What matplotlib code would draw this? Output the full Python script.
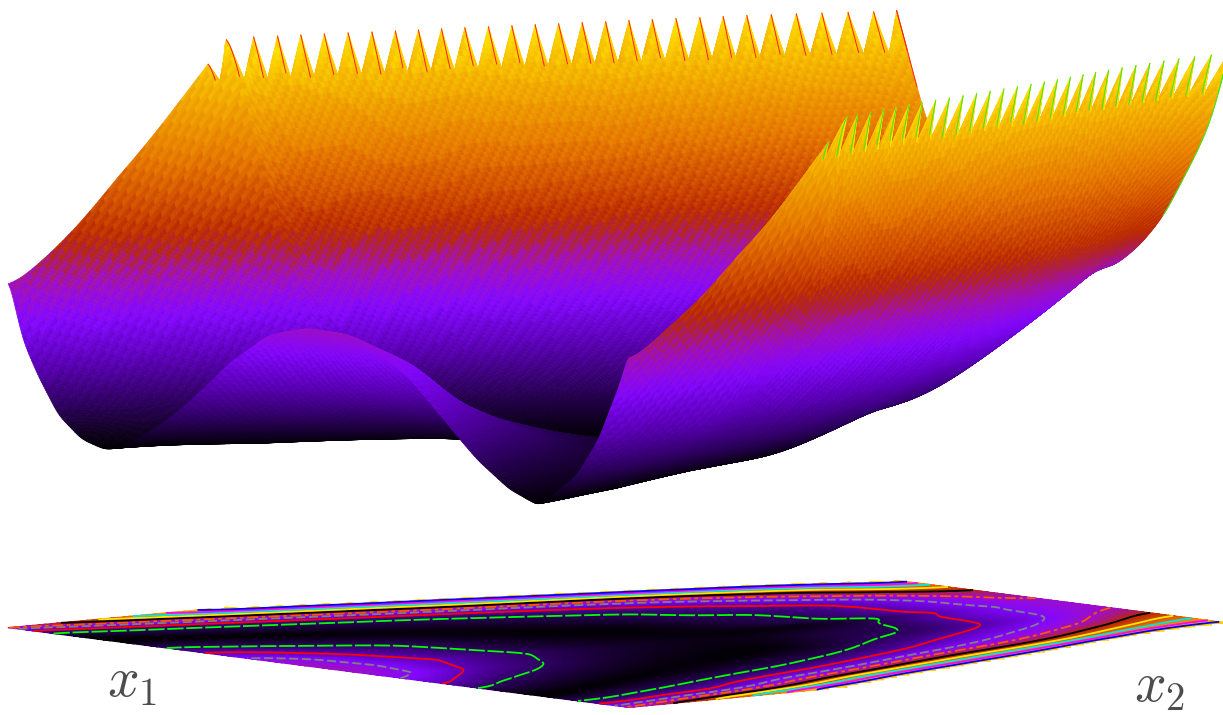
import numpy as np
import matplotlib
matplotlib.use("Agg")
import matplotlib.pyplot as plt
from matplotlib.colors import LinearSegmentedColormap
from mpl_toolkits.mplot3d.art3d import Line3DCollection

# surface: cross sections along x1 at fixed x2 (axes scaled 0..1)
x2_rows = [0, 0.05, 0.1, 0.2, 0.3, 0.4, 0.5, 0.6, 0.7, 0.8, 0.9, 1.0]
# where the two valleys sit in each section
valley_a = [.151, .178, .205, .261, .317, .39, .45, .49, .50, .51, .515, .52]
valley_b = [.858, .84, .82, .78, .74, .70, .67, .60, .56, .54, .53, .525]

x1_r00 = [0, .0225, .045, .08, .116, .151, .18, .238, .294, .359, .416, .481, .545, .595, .645, .70, .759, .809, .858, .916, .952, .987, 1]
z_r00 = [.41, .245, .17, .07, .013, 0, .013, .08, .17, .29, .37, .405, .40, .36, .31, .213, .103, .034, 0, .09, .195, .34, .42]
x1_r05 = [0, .018, .033, .057, .088, .178, .285, .352, .44, .525, .60, .66, .725, .84, .915, .95, .967, .985, 1]
z_r05 = [.47, .40, .31, .20, .10, 0, .10, .20, .31, .325, .31, .20, .10, 0, .10, .20, .31, .40, .50]
x1_r10 = [0, .012, .035, .052, .075, .107, .205, .318, .423, .52, .612, .697, .82, .897, .935, .955, .972, .99, 1]
z_r10 = [.56, .50, .40, .31, .20, .10, 0, .10, .20, .25, .20, .10, 0, .10, .20, .31, .40, .50, .58]
x1_r20 = [0, .013, .03, .047, .071, .089, .111, .144, .261, .392, .53, .625, .78, .863, .919, .937, .952, .968, .981, .988, 1]
z_r20 = [.78, .70, .60, .50, .40, .31, .20, .10, 0, .10, .135, .10, 0, .10, .20, .31, .40, .50, .60, .70, .78]
x1_r30 = [0, .003, .026, .037, .05, .066, .082, .106, .126, .146, .18, .317, .55, .74, .83, .87, .89, .916, .94, .955, .968, .975, .985, .99, 1]
z_r30 = [1.03, 1.0, .90, .80, .70, .60, .50, .40, .31, .20, .10, 0, .07, 0, .10, .20, .31, .40, .50, .60, .70, .80, .90, 1.0, 1.05]
x1_r40 = [0, .037, .055, .07, .085, .102, .117, .141, .163, .183, .217, .39, .56, .70, .80, .84, .865, .885, .905, .915, .927, .937, .948, .96, 1]
z_r40 = [1.3, 1.0, .90, .80, .70, .60, .50, .40, .31, .20, .10, 0, .035, 0, .10, .20, .31, .40, .50, .60, .70, .80, .90, 1.0, 1.3]
x1_r50 = [0, .076, .085, .10, .12, .139, .150, .173, .193, .222, .27, .45, .56, .67, .754, .80, .83, .849, .868, .884, .897, .908, .92, .93, 1]
z_r50 = [1.6, 1.0, .90, .80, .70, .60, .50, .40, .31, .20, .10, 0, .015, 0, .10, .20, .31, .40, .50, .60, .70, .80, .90, 1.0, 1.6]
x1_r60 = [0, .110, .12, .135, .15, .166, .183, .202, .222, .263, .322, .53, .69, .76, .795, .813, .835, .852, .868, .88, .89, .90, 1]
z_r60 = [1.8, 1.0, .90, .80, .70, .60, .50, .40, .31, .20, .10, 0, .10, .20, .31, .40, .50, .60, .70, .80, .90, 1.0, 1.8]
x1_r70 = [0, .144, .155, .165, .18, .196, .217, .238, .264, .322, .407, .52, .60, .65, .70, .755, .785, .81, .83, .84, .85, .86, .87, 1]
z_r70 = [2.0, 1.0, .90, .80, .70, .60, .50, .40, .31, .20, .10, .03, .07, .10, .20, .31, .40, .50, .60, .70, .80, .90, 1.0, 2.0]
x1_r80 = [0, .18, .19, .20, .215, .234, .263, .294, .334, .39, .52, .64, .70, .745, .775, .795, .808, .818, .825, .83, 1]
z_r80 = [2.2, 1.0, .90, .80, .70, .60, .50, .40, .31, .20, .13, .20, .31, .40, .50, .60, .70, .80, .90, 1.0, 2.2]
x1_r90 = [0, .215, .225, .24, .255, .273, .323, .36, .43, .52, .62, .69, .725, .745, .765, .78, .79, .80, 1]
z_r90 = [2.4, 1.0, .90, .80, .70, .60, .50, .40, .31, .285, .31, .40, .50, .60, .70, .80, .90, 1.0, 2.4]
x1_r100 = [0, .278, .29, .305, .325, .36, .40, .52, .56, .606, .652, .692, .72, .754, .778, .79, 1]
z_r100 = [2.6, 1.0, .90, .80, .70, .60, .50, .40, .405, .425, .50, .60, .70, .80, .90, 1.0, 2.0]

contour_levels = [.10, .20, .31, .40, .50, .60, .70, .80, .90]
contour_colors = ["#00ff00", "#ff0000", "#808080", "#ff5500", "#000000", "#ffe600", "#00e5e5", "#ff00ff", "#0000ff"]
contour_styles = [(0, (9, 1.5)), "-", (0, (5, 2)), (0, (6, 2, 2, 2)), "-", "-", "-", "-", "-"]

color_stops = [(0, "#000000"), (.1, "#2d005f"), (.2, "#5a00b4"), (.31, "#8408ff"), (.40, "#a010c0"),
               (.5, "#b92800"), (.6, "#d25000"), (.7, "#e67800"), (.85, "#f2aa00"), (1, "#ffe000")]
cmap = LinearSegmentedColormap.from_list("walls", color_stops, N=512)

floor_z = -.5
top_z = 1.0
n_strips = 40   # teeth along x2
strip_cols = 6


def smooth(a, win, axis):
    kernel = np.ones(win) / win
    pad = win // 2
    f = lambda m: np.convolve(np.pad(m, pad, mode="edge"), kernel, mode="valid")
    return np.apply_along_axis(f, axis, a)


# the read sections are resampled to a fine mesh only so the surface renders smooth,
# valleys are lined up first so they stay narrow between two sections
sections = [(x1_r00, z_r00), (x1_r05, z_r05), (x1_r10, z_r10), (x1_r20, z_r20), (x1_r30, z_r30), (x1_r40, z_r40),
            (x1_r50, z_r50), (x1_r60, z_r60), (x1_r70, z_r70), (x1_r80, z_r80), (x1_r90, z_r90), (x1_r100, z_r100)]
x1_grid = np.linspace(0, 1, 401)
x2_grid = np.linspace(0, 1, n_strips * strip_cols + 1)
s_knots = [0, .25, .75, 1]
s_grid = np.linspace(0, 1, 801)
rows = []
for (a, b), va, vb in zip(sections, valley_a, valley_b):
    rows.append(np.interp(s_grid, np.interp(a, [0, va, vb, 1], s_knots), b))
rows = np.array(rows)
Z0 = []
for v in x2_grid:
    row = [np.interp(v, x2_rows, rows[:, i]) for i in range(len(s_grid))]
    knots = [0, np.interp(v, x2_rows, valley_a), np.interp(v, x2_rows, valley_b), 1]
    Z0.append(np.interp(x1_grid, np.interp(s_grid, s_knots, knots), row))
Z0 = np.array(Z0)
Z = Z0.copy()
Z_far = Z0.copy()
for _ in range(2):
    Z = smooth(Z, 11, 0)
    Z = smooth(Z, 5, 1)
for _ in range(3):
    Z_far = smooth(Z_far, 21, 0)
    Z_far = smooth(Z_far, 9, 1)
# the near part keeps its sharp hump, further back the sections are blended harder
blend = np.clip((x2_grid - .15) / .15, 0, 1)[:, None]
Z = Z * (1 - blend) + Z_far * blend


def crossings(row, lim):
    inside = np.where(row <= lim)[0]
    a, b = inside[0], inside[-1]
    ua = x1_grid[a] if a == 0 else np.interp(lim, [row[a], row[a - 1]], [x1_grid[a], x1_grid[a - 1]])
    ub = x1_grid[b] if b == len(x1_grid) - 1 else np.interp(lim, [row[b], row[b + 1]], [x1_grid[b], x1_grid[b + 1]])
    return ua, ub


# clip the walls at the top of the box with a saw edge, like the coarse mesh of the original
phase = ((np.arange(len(x2_grid)) - 1) % strip_cols + 1) / strip_cols
limit = top_z - .13 * (1 - phase)
nu = 420
U = np.zeros((len(x2_grid), nu))
C = np.zeros_like(U)
for j, row in enumerate(Z):
    ua, ub = crossings(row, top_z)
    ta, tb = crossings(row, limit[j])
    U[j] = np.clip(np.linspace(ua, ub, nu), ta, tb)
    C[j] = np.interp(U[j], x1_grid, row)
V = np.repeat(x2_grid[:, None], nu, axis=1)

W, H = 1223, 715
fig = plt.figure(figsize=(W / 100, H / 100), dpi=100)
plt.rcParams["mathtext.fontset"] = "cm"

S = 1500.0
cx, cy = 682.0, 348.5
ax = fig.add_axes([(cx - .5135 * S) / W, (H - cy - .5135 * S) / H, S / W, S / H], projection="3d")
aspect = np.array([956.0, 956.0, 573.5])
zoom = (956 * .185 * 10 / S) / (1.8294640721620434 * 25 / 24 * 956 / np.linalg.norm(aspect))
ax.set_box_aspect(aspect, zoom=zoom)
ax.set_proj_type("ortho")
ax.view_init(elev=6.3, azim=-40.5)
ax.set_xlim(0, 1, view_margin=0)
ax.set_ylim(0, 1, view_margin=0)
ax.set_zlim(floor_z, top_z, view_margin=0)
ax.set_axis_off()
ax.computed_zorder = False

# floor map and contours
ax.plot_surface(U, V, np.full_like(C, floor_z), facecolors=cmap(np.clip(C, 0, 1)), rstride=2, cstride=4,
                shade=False, linewidth=.8, zorder=1)
ax.contour(x1_grid, x2_grid, Z, levels=contour_levels, colors=contour_colors, linestyles=contour_styles,
           linewidths=1.3, zdir="z", offset=floor_z, zorder=2)

# surface, the diagonal bands follow the cell diagonals of the original mesh
diag = (np.abs(U - .52) / .0075 - V / .025) % 1
band = C + .07 * np.clip(C * 2.5, 0, 1) * (diag - .5)
ax.plot_surface(U, V, C, facecolors=cmap(np.clip(band, 0, 1)), rstride=1, cstride=1,
                shade=False, linewidth=.5, zorder=3)

# thin red and green edges on the teeth
red, green = [], []
tips = np.where(phase == 1)[0]
for j in tips:
    near_top = C[j] > limit[j] - .11
    if C[j, 0] > .85:
        red.append(np.c_[U[j], V[j], C[j]][:nu // 2][near_top[:nu // 2]])
    if C[j, -1] > .85:
        green.append(np.c_[U[j], V[j], C[j]][nu // 2:][near_top[nu // 2:]])
edge = np.c_[U[-1], V[-1], C[-1]]
red.append(edge[:nu // 2][C[-1, :nu // 2] > .8])
green.append(edge[nu // 2:][C[-1, nu // 2:] > .55])
red = [s for s in red if len(s) > 1]
green = [s for s in green if len(s) > 1]
ax.add_collection3d(Line3DCollection(red, colors="#ff2020", linewidths=.7, zorder=4), autolim=False)
ax.add_collection3d(Line3DCollection(green, colors="#30f020", linewidths=.7, zorder=4), autolim=False)

fig.text(107 / W, 1 - 697 / H, r"$x_1$", fontsize=40, color="#4d4d4d", ha="left", va="baseline")
fig.text(1134 / W, 1 - 702 / H, r"$x_2$", fontsize=40, color="#4d4d4d", ha="left", va="baseline")

fig.savefig("out.png", dpi=100)
